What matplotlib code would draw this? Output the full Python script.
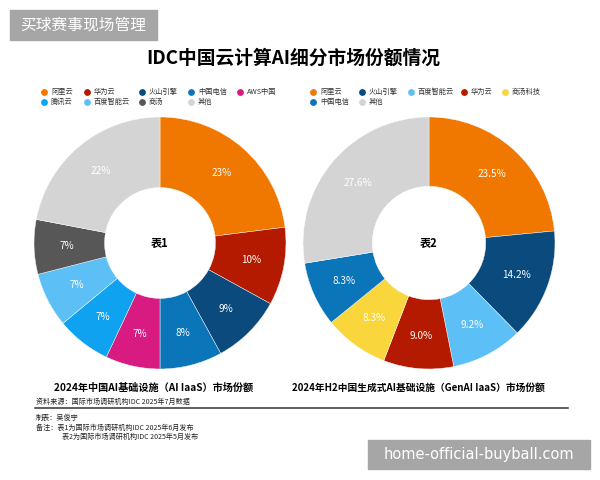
import matplotlib
matplotlib.use("Agg")
import matplotlib.pyplot as plt
from matplotlib.patches import Rectangle

plt.rcParams['font.family'] = ['Noto Sans CJK SC', 'DejaVu Sans']

# 表1 数据
names1 = ['阿里云', '华为云', '火山引擎', '中国电信', 'AWS中国', '腾讯云', '百度智能云', '商汤', '其他']
share1 = [23, 10, 9, 8, 7, 7, 7, 7, 22]
colors1 = ['#F07800', '#B41A00', '#0A4A7C', '#0A75B8', '#D81B80', '#0FA2F0', '#5CC0F7', '#575757', '#D4D4D4']

# 表2 数据
names2 = ['阿里云', '火山引擎', '百度智能云', '华为云', '商汤科技', '中国电信', '其他']
share2 = [23.5, 14.2, 9.2, 9.0, 8.3, 8.3, 27.6]
colors2 = ['#F07800', '#0A4A7C', '#5CC0F7', '#B41A00', '#F8D63C', '#0A75B8', '#D4D4D4']

W, H = 600, 480
fig = plt.figure(figsize=(6, 4.8), dpi=100)

# 叠加层，像素坐标
ov = fig.add_axes([0, 0, 1, 1], zorder=5)
ov.set_xlim(0, W)
ov.set_ylim(H, 0)
ov.axis('off')


def donut(cx, cy, r, hole, vals, cols, fmt, center):
    ax = fig.add_axes([(cx - r) / W, 1 - (cy + r) / H, 2 * r / W, 2 * r / H])
    labels = iter([fmt.format(v) for v in vals])
    wedges, texts, autotexts = ax.pie(
        vals, colors=cols, startangle=90, counterclock=False,
        wedgeprops=dict(width=1 - hole, edgecolor='white', linewidth=0.3),
        autopct=lambda p: next(labels), pctdistance=0.74,
        textprops=dict(color='white', fontsize=7.2, fontweight='medium'))
    ax.set_xlim(-1, 1)
    ax.set_ylim(-1, 1)
    ax.text(0, 0, center, ha='center', va='center', fontsize=8, fontweight='bold')
    return ax


donut(160, 243, 126, 0.44, share1, colors1, '{:g}%', '表1')
donut(429, 243, 126, 0.45, share2, colors2, '{:.1f}%', '表2')


def legend(items, cols, xs, ys):
    for (name, col), x, y in zip(zip(items, cols), xs, ys):
        ov.scatter([x], [y], s=15, color=col, zorder=6)
        ov.text(x + 7, y, name, fontsize=5.2, va='center', ha='left', color='#333333')


legend(names1, colors1,
       [44, 87, 142, 191, 240, 44, 87, 142, 191],
       [92] * 5 + [102] * 4)
legend(names2, colors2,
       [313, 362, 411, 464, 505, 313, 362],
       [92] * 5 + [102] * 2)

ov.text(293, 58, 'IDC中国云计算AI细分市场份额情况', fontsize=13.5, fontweight='bold',
        ha='center', va='center', color='black')

ov.text(154, 388, '2024年中国AI基础设施（AI IaaS）市场份额', fontsize=7.3,
        fontweight='bold', ha='center', va='center')
ov.text(418, 388, '2024年H2中国生成式AI基础设施（GenAI IaaS）市场份额', fontsize=7.0,
        fontweight='bold', ha='center', va='center')

ov.text(36, 402, '资料来源：国际市场调研机构IDC 2025年7月数据', fontsize=5.1, va='center', color='#222222')
ov.plot([35, 568], [408, 408], color='#333333', lw=1.1)
ov.text(36, 418, '制表：吴俊宇', fontsize=5.1, va='center', color='#222222')
ov.text(36, 428, '备注：表1为国际市场调研机构IDC 2025年6月发布', fontsize=5.1, va='center', color='#222222')
ov.text(62, 437, '表2为国际市场调研机构IDC 2025年5月发布', fontsize=5.1, va='center', color='#222222')

# 水印
ov.add_patch(Rectangle((10, 10), 147, 30, color='#A6A6A6', zorder=7))
ov.text(83.5, 25, '买球赛事现场管理', fontsize=11.3, color='white', ha='center', va='center', zorder=8)
ov.add_patch(Rectangle((368, 440), 222, 29, color='#A6A6A6', zorder=7))
ov.text(479, 454.5, 'home-official-buyball.com', fontsize=10.5, color='white',
        ha='center', va='center', zorder=8, family=['DejaVu Sans'])

fig.savefig('out.png', dpi=100)
